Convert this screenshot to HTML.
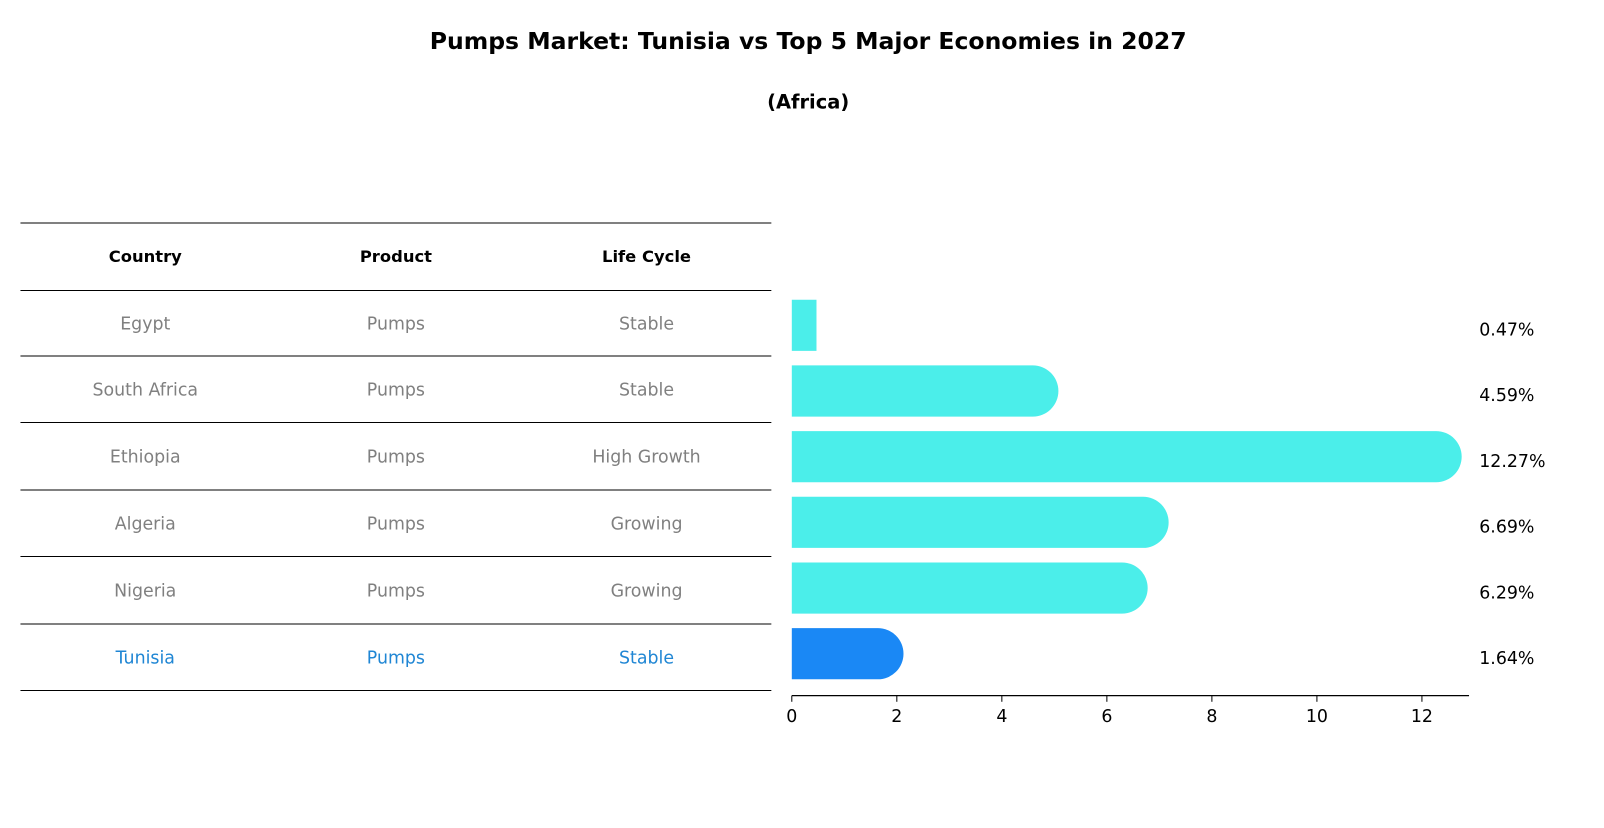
<!DOCTYPE html>
<html><head><meta charset="utf-8"><style>
body{margin:0;background:#fff;font-family:"Liberation Sans","DejaVu Sans",sans-serif;}
svg text{font-family:"DejaVu Sans","Liberation Sans",sans-serif;}
</style></head><body>
<svg id="c" width="1604" height="823" xmlns="http://www.w3.org/2000/svg">
<g transform="scale(1.023)">
<text x="790" y="48" text-anchor="middle" font-size="23" font-weight="bold">Pumps Market: Tunisia vs Top 5 Major Economies in 2027</text>
<text x="790" y="106" text-anchor="middle" font-size="19" font-weight="bold">(Africa)</text>
<g id="tbl"></g>
<g id="bars"></g>
<g id="axis"></g>
</g>
</svg>
<script>
const countries=["Egypt","South Africa","Ethiopia","Algeria","Nigeria","Tunisia"];
const products=["Pumps","Pumps","Pumps","Pumps","Pumps","Pumps"];
const lifeCycles=["Stable","Stable","High Growth","Growing","Growing","Stable"];
const values=[0.47,4.59,12.27,6.69,6.29,1.64];
const ticks=[0,2,4,6,8,10,12];
const NS="http://www.w3.org/2000/svg";
function mk(tag,attrs,parent,txt){const e=document.createElementNS(NS,tag);for(const k in attrs)e.setAttribute(k,attrs[k]);if(txt!==undefined)e.textContent=txt;parent.appendChild(e);return e;}
const x0=774,pxPerUnit=51.33;
const xs=v=>x0+v*pxPerUnit;
const rowY=i=>318+i*64.2;
const tbl=document.getElementById('tbl');
const lineYs=[218,284];
for(let i=0;i<countries.length;i++)lineYs.push(Math.round(348+i*65.4));
lineYs.forEach((y,i)=>{const l=mk('line',{x1:20,x2:754,y1:y,y2:y,stroke:'#000','stroke-width':1},tbl);

});
const colX=[142,387,632];
["Country","Product","Life Cycle"].forEach((h,j)=>{const t=mk('text',{x:colX[j],y:256,'text-anchor':'middle','font-size':16,'font-weight':'bold'},tbl,h);

});
for(let i=0;i<countries.length;i++){
 const y=(lineYs[i+1]+lineYs[i+2])/2+6;
 const col=i===countries.length-1?'#1f86d4':'#808080';
 [countries[i],products[i],lifeCycles[i]].forEach((s,j)=>{const t=mk('text',{x:colX[j],y:y,'text-anchor':'middle','font-size':17,fill:col},tbl,s);
 
 });
}
const bars=document.getElementById('bars');
const h=50,r=25;
values.forEach((v,i)=>{
 const cy=rowY(i),xe=xs(v);
 const col=i===values.length-1?'#1a88f5':'#4beeea';
 let d;
 if(v>1){d=`M${x0},${cy-h/2}H${xe}A${r},${r} 0 0 1 ${xe},${cy+h/2}H${x0}Z`;}
 else{d=`M${x0},${cy-h/2}H${xe}V${cy+h/2}H${x0}Z`;}
 const p=mk('path',{d:d,fill:col},bars);
 
 
 const t=mk('text',{x:1446,y:cy+10,'font-size':17},bars,v.toFixed(2)+'%');
 
 
});
const ax=document.getElementById('axis');
const al=mk('line',{x1:x0,x2:1436,y1:680,y2:680,stroke:'#000','stroke-width':1.2},ax);


ticks.forEach(t=>{mk('line',{x1:xs(t),x2:xs(t),y1:680,y2:686,stroke:'#000'},ax);
 const tx=mk('text',{x:xs(t),y:706,'text-anchor':'middle','font-size':17},ax,String(t));
 
 });
</script>
</body></html>
